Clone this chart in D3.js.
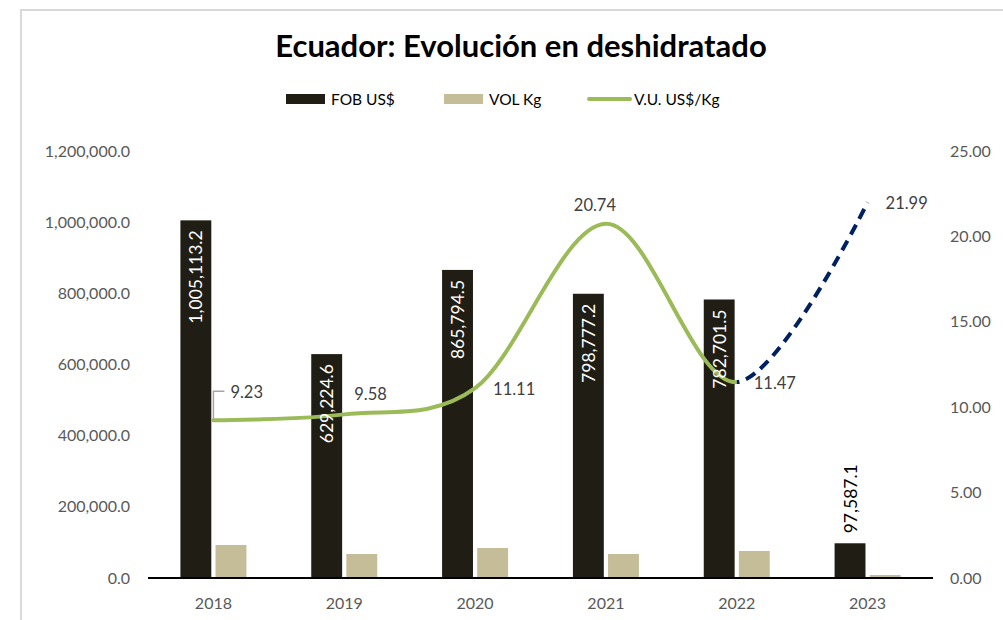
<!DOCTYPE html>
<html>
<head>
<meta charset="utf-8">
<script src="https://cdn.jsdelivr.net/npm/d3@7"></script>
<style>
  body { margin: 0; background: #fff; }
  svg text { font-family: "Lato", "Open Sans", sans-serif; }
</style>
</head>
<body>
<div id="chart"></div>
<script>
// data
const years = ["2018", "2019", "2020", "2021", "2022", "2023"];
const fob = [1005113.2, 629224.6, 865794.5, 798777.2, 782701.5, 97587.1];
const vol = [92700, 67500, 84300, 67500, 75900, 8400];
const vu = [9.23, 9.58, 11.11, 20.74, 11.47, 21.99];
const leftTicks = [0, 200000, 400000, 600000, 800000, 1000000, 1200000];
const rightTicks = [0, 5, 10, 15, 20, 25];

const W = 1003, H = 620;
const plot = { left: 148, right: 933, top: 151, bottom: 578 };

const svg = d3.select("#chart").append("svg")
    .attr("width", W)
    .attr("height", H);

// chart frame
svg.append("path")
    .attr("d", `M21,${H + 5}V10H${W + 5}`)
    .attr("fill", "none")
    .attr("stroke", "#d9d9d9")
    .attr("stroke-width", 2);

// title
svg.append("text")
    .attr("x", 521).attr("y", 57)
    .attr("text-anchor", "middle")
    .style("font-size", "31px")
    .style("font-weight", "bold")
    .attr("fill", "#000")
    .text("Ecuador: Evolución en deshidratado");

const x = d3.scaleBand().domain(years).range([plot.left, plot.right]);
const sub = d3.scaleBand().domain(["fob", "vol"]).range([-33, 33]).paddingInner(0.12);
const y = d3.scaleLinear().domain([0, 1200000]).range([plot.bottom, plot.top]);
const y2 = d3.scaleLinear().domain([0, 25]).range([plot.bottom, plot.top]);

const cx = d => x(d) + x.bandwidth() / 2;

// axes (labels only)
const leftAxis = svg.append("g")
    .attr("transform", `translate(${plot.left - 8},0)`)
    .call(d3.axisLeft(y).tickValues(leftTicks).tickFormat(d3.format(",.1f")).tickSize(0).tickPadding(10));
const rightAxis = svg.append("g")
    .attr("transform", `translate(${plot.right + 7},0)`)
    .call(d3.axisRight(y2).tickValues(rightTicks).tickFormat(d3.format(".2f")).tickSize(0).tickPadding(10));
const bottomAxis = svg.append("g")
    .attr("transform", `translate(0,${plot.bottom + 6})`)
    .call(d3.axisBottom(x).tickSize(0).tickPadding(14));

[leftAxis, rightAxis, bottomAxis].forEach(g => {
    g.select(".domain").remove();
    g.selectAll("text")
        .attr("fill", "#595959")
        .style("font-size", "16px");
});

// bars
const rows = years.map((yr, i) => ({ year: yr, fob: fob[i], vol: vol[i], vu: vu[i] }));

svg.append("g").selectAll("rect")
    .data(rows).join("rect")
    .attr("x", d => cx(d.year) + sub("fob"))
    .attr("y", d => y(d.fob))
    .attr("width", sub.bandwidth())
    .attr("height", d => y(0) - y(d.fob))
    .attr("fill", "#201d14");

svg.append("g").selectAll("rect")
    .data(rows).join("rect")
    .attr("x", d => cx(d.year) + sub("vol"))
    .attr("y", d => y(d.vol))
    .attr("width", sub.bandwidth())
    .attr("height", d => y(0) - y(d.vol))
    .attr("fill", "#c4bd97");

// baseline
svg.append("line")
    .attr("x1", plot.left).attr("x2", plot.right)
    .attr("y1", y(0)).attr("y2", y(0))
    .attr("stroke", "#000")
    .attr("stroke-width", 2);

// smoothed V.U. line, green up to 2022 then dashed navy
const line = d3.line()
    .x(d => cx(d.year))
    .y(d => y2(d.vu))
    .curve(d3.curveCardinal.tension(0));

const splitX = cx("2022");
const defs = svg.append("defs");
defs.append("clipPath").attr("id", "clipA")
    .append("rect").attr("x", 0).attr("y", 0).attr("width", splitX).attr("height", H);
defs.append("clipPath").attr("id", "clipB")
    .append("rect").attr("x", splitX).attr("y", 0).attr("width", W - splitX).attr("height", H);

svg.append("path")
    .datum(rows)
    .attr("d", line)
    .attr("clip-path", "url(#clipA)")
    .attr("fill", "none")
    .attr("stroke", "#9bbb59")
    .attr("stroke-width", 4)
    .attr("stroke-linecap", "round");

svg.append("path")
    .datum(rows.slice(3))
    .attr("d", line)
    .attr("clip-path", "url(#clipB)")
    .attr("fill", "none")
    .attr("stroke", "#002060")
    .attr("stroke-width", 4)
    .attr("stroke-dasharray", "11,7")
    .attr("stroke-dashoffset", -4);

// V.U. labels (offsets from point)
const vuOffsets = [[17, -28, "start"], [10, -20, "start"], [18, 1, "start"], [-11, -19, "middle"], [17, 1, "start"], [18, 1, "start"]];

// leader line for first label
svg.append("path")
    .attr("d", `M${cx("2018")},${y2(vu[0])}V${y2(vu[0]) - 29}h11`)
    .attr("fill", "none")
    .attr("stroke", "#a6a6a6")
    .attr("stroke-width", 1.5);

svg.append("g").selectAll("text")
    .data(rows).join("text")
    .attr("x", (d, i) => cx(d.year) + vuOffsets[i][0])
    .attr("y", (d, i) => y2(d.vu) + vuOffsets[i][1])
    .attr("text-anchor", (d, i) => vuOffsets[i][2])
    .attr("dominant-baseline", "central")
    .attr("fill", "#404040")
    .style("font-size", "16.5px")
    .text(d => d3.format(".2f")(d.vu));

// FOB labels, rotated; inside the bar unless it is too short
const fmt = d3.format(",.1f");
svg.append("g").selectAll("text")
    .data(rows).join("text")
    .attr("transform", d => {
        const inside = y(0) - y(d.fob) > 120;
        const ty = inside ? y(d.fob) + 10 : y(d.fob) - 10;
        return `translate(${cx(d.year) + sub("fob") + sub.bandwidth() / 2},${ty}) rotate(-90)`;
    })
    .attr("text-anchor", d => (y(0) - y(d.fob) > 120 ? "end" : "start"))
    .attr("dominant-baseline", "central")
    .attr("fill", d => (y(0) - y(d.fob) > 120 ? "#fff" : "#000"))
    .style("font-size", "17.5px")
    .text(d => fmt(d.fob));

// legend
const legend = svg.append("g").attr("transform", "translate(0,99)");
const items = [
    { label: "FOB US$", x: 286, type: "rect", color: "#201d14" },
    { label: "VOL Kg", x: 444, type: "rect", color: "#c4bd97" },
    { label: "V.U. US$/Kg", x: 587, type: "line", color: "#9bbb59" }
];
items.forEach(it => {
    if (it.type === "rect") {
        legend.append("rect").attr("x", it.x).attr("y", -5).attr("width", 39).attr("height", 10).attr("fill", it.color);
    } else {
        legend.append("line").attr("x1", it.x + 2).attr("x2", it.x + 43).attr("y1", 0).attr("y2", 0)
            .attr("stroke", it.color).attr("stroke-width", 4).attr("stroke-linecap", "round");
    }
    legend.append("text")
        .attr("x", it.x + (it.type === "rect" ? 45 : 47))
        .attr("y", 0)
        .attr("dominant-baseline", "central")
        .attr("fill", "#000")
        .style("font-size", "15.5px")
        .text(it.label);
});
</script>
</body>
</html>
